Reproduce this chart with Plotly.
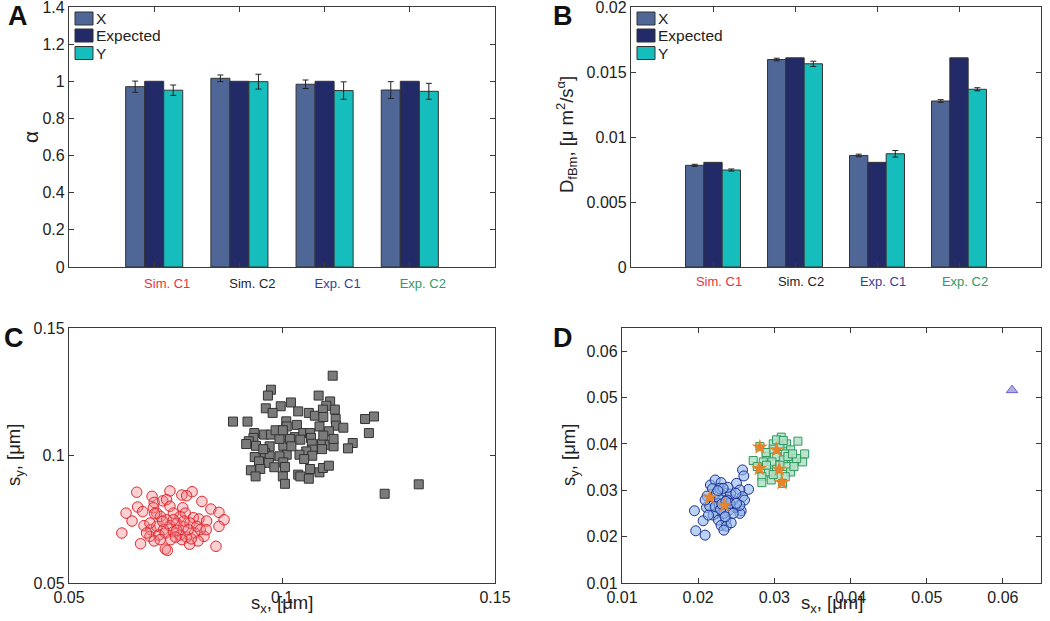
import plotly.graph_objects as go

# ---------------- data ----------------
categories = ["Sim. C1", "Sim. C2", "Exp. C1", "Exp. C2"]
cat_colors = ["#e8323c", "#222222", "#34409c", "#2f9a62"]
series_names = ["X", "Expected", "Y"]
series_colors = ["#4f6797", "#222a67", "#16bdbd"]

alpha_X = [0.971, 1.016, 0.984, 0.953]
alpha_X_err = [0.030, 0.018, 0.023, 0.045]
alpha_E = [1.0, 1.0, 1.0, 1.0]
alpha_Y = [0.952, 0.998, 0.950, 0.946]
alpha_Y_err = [0.028, 0.040, 0.047, 0.043]

D_X = [0.00782, 0.01596, 0.00858, 0.01277]
D_X_err = [0.00008, 0.0001, 0.0001, 0.0001]
D_E = [0.00805, 0.01609, 0.00805, 0.01609]
D_Y = [0.00746, 0.01563, 0.00871, 0.01367]
D_Y_err = [0.00008, 0.0002, 0.00025, 0.00012]

# panel C: simulated condition 1 (red circles) and condition 2 (grey squares)
C_sim1_points = [
    (0.0659, 0.0856), (0.0695, 0.0840), (0.0737, 0.0861), (0.0765, 0.0845), (0.0789, 0.0858),
    (0.0776, 0.0842), (0.0700, 0.0816), (0.0720, 0.0822), (0.0729, 0.0827), (0.0812, 0.0820),
    (0.0634, 0.0774), (0.0661, 0.0798), (0.0673, 0.0780), (0.0698, 0.0795), (0.0737, 0.0801),
    (0.0767, 0.0795), (0.0833, 0.0790), (0.0852, 0.0777), (0.0864, 0.0748), (0.0648, 0.0743),
    (0.0676, 0.0725), (0.0706, 0.0774), (0.0715, 0.0761), (0.0729, 0.0748), (0.0745, 0.0774),
    (0.0761, 0.0761), (0.0773, 0.0774), (0.0792, 0.0756), (0.0805, 0.0751), (0.0823, 0.0743),
    (0.0852, 0.0722), (0.0624, 0.0696), (0.0692, 0.0709), (0.0706, 0.0722), (0.0722, 0.0709),
    (0.0737, 0.0725), (0.0753, 0.0733), (0.0769, 0.0720), (0.0784, 0.0735), (0.0800, 0.0722),
    (0.0690, 0.0683), (0.0711, 0.0688), (0.0726, 0.0696), (0.0745, 0.0701), (0.0761, 0.0688),
    (0.0776, 0.0680), (0.0795, 0.0696), (0.0817, 0.0683), (0.0668, 0.0654), (0.0700, 0.0665),
    (0.0739, 0.0670), (0.0765, 0.0670), (0.0783, 0.0652), (0.0803, 0.0665), (0.0845, 0.0644),
    (0.0726, 0.0633), (0.0731, 0.0628), (0.0690, 0.0735), (0.0720, 0.0742), (0.0753, 0.0707),
    (0.0780, 0.0709), (0.0682, 0.0696), (0.0808, 0.0709), (0.0750, 0.0680), (0.0714, 0.0670),
    (0.0787, 0.0673), (0.0701, 0.0772), (0.0745, 0.0748), (0.0770, 0.0743), (0.0822, 0.0709),
]
C_sim2_points = [
    (0.1119, 0.1313), (0.0974, 0.1258), (0.0967, 0.1235), (0.1086, 0.1235), (0.1113, 0.1212),
    (0.1104, 0.1195), (0.1021, 0.1208), (0.0997, 0.1193), (0.0962, 0.1185), (0.0978, 0.1167),
    (0.1038, 0.1173), (0.1063, 0.1167), (0.1124, 0.1180), (0.1077, 0.1156), (0.1096, 0.1180),
    (0.1097, 0.1151), (0.1126, 0.1143), (0.1195, 0.1143), (0.1216, 0.1153), (0.0885, 0.1133),
    (0.0919, 0.1133), (0.1010, 0.1134), (0.1011, 0.1114), (0.1035, 0.1120), (0.1088, 0.1114),
    (0.1127, 0.1117), (0.1144, 0.1109), (0.1110, 0.1095), (0.1204, 0.1088), (0.0935, 0.1088),
    (0.0958, 0.1082), (0.0974, 0.1082), (0.1003, 0.1078), (0.1030, 0.1072), (0.1050, 0.1088),
    (0.1066, 0.1088), (0.1068, 0.1069), (0.0933, 0.1069), (0.0922, 0.1056), (0.0916, 0.1045),
    (0.0939, 0.1038), (0.0971, 0.1036), (0.1003, 0.1038), (0.0994, 0.1065), (0.1019, 0.1065),
    (0.1043, 0.1062), (0.1070, 0.1046), (0.1094, 0.1046), (0.1112, 0.1042), (0.1121, 0.1036),
    (0.1166, 0.1049), (0.1155, 0.1028), (0.1094, 0.1025), (0.1072, 0.1023), (0.1057, 0.1016),
    (0.1041, 0.1003), (0.1011, 0.1003), (0.0994, 0.0997), (0.0960, 0.1010), (0.0971, 0.0997),
    (0.0936, 0.0994), (0.0946, 0.0977), (0.0969, 0.0971), (0.1003, 0.0973), (0.1007, 0.0955),
    (0.0982, 0.0954), (0.0949, 0.0947), (0.0927, 0.0942), (0.0938, 0.0918), (0.1038, 0.0925),
    (0.1043, 0.0918), (0.1063, 0.0909), (0.1066, 0.0947), (0.1088, 0.0934), (0.1096, 0.0951),
    (0.1110, 0.0960), (0.1002, 0.0918), (0.1007, 0.0889), (0.1241, 0.0850), (0.1321, 0.0887),
    (0.1071, 0.0999), (0.1052, 0.0986), (0.0985, 0.1099), (0.1002, 0.1099), (0.1097, 0.1078),
    (0.1022, 0.1036), (0.1121, 0.1065), (0.0956, 0.1025),
]

# panel D: experimental condition 1 (blue circles), condition 2 (green squares),
# highlighted cells (orange stars) and a single outlier (triangle)
D_exp1_points = [
    (0.01951, 0.02558), (0.01968, 0.02126), (0.02065, 0.02342), (0.02091, 0.02032), (0.02161, 0.03114),
    (0.02223, 0.03222), (0.02188, 0.03035), (0.02117, 0.02876), (0.02109, 0.02631), (0.02174, 0.02789),
    (0.02240, 0.02934), (0.02301, 0.03165), (0.02284, 0.03042), (0.02319, 0.02789), (0.02240, 0.02501),
    (0.02345, 0.02645), (0.02372, 0.02934), (0.02196, 0.02465), (0.02266, 0.02356), (0.02363, 0.02356),
    (0.02301, 0.02241), (0.02372, 0.02227), (0.02433, 0.02299), (0.02337, 0.02140), (0.02503, 0.03150),
    (0.02582, 0.03439), (0.02599, 0.03309), (0.02661, 0.03020), (0.02547, 0.03006), (0.02582, 0.02862),
    (0.02608, 0.02789), (0.02564, 0.02558), (0.02547, 0.02501), (0.02486, 0.02631), (0.02459, 0.02789),
    (0.02424, 0.02919), (0.02389, 0.03064), (0.02328, 0.03042), (0.02266, 0.02717), (0.02407, 0.02573),
    (0.02459, 0.02501), (0.02152, 0.02659), (0.02275, 0.02818), (0.02337, 0.02501), (0.02494, 0.02934),
    (0.02091, 0.02789), (0.02223, 0.02645), (0.02293, 0.02587), (0.02380, 0.02789), (0.02415, 0.02717),
    (0.02354, 0.02429), (0.02547, 0.02674), (0.02135, 0.02465), (0.02503, 0.02717), (0.02310, 0.02703),
    (0.02363, 0.02760), (0.02258, 0.02991),
]
D_exp2_points = [
    (0.02722, 0.03641), (0.02810, 0.03944), (0.02985, 0.04001), (0.03090, 0.04146), (0.03160, 0.04001),
    (0.03309, 0.04059), (0.03073, 0.03944), (0.03213, 0.03872), (0.03143, 0.03785), (0.03029, 0.03727),
    (0.02897, 0.03727), (0.02854, 0.03612), (0.02968, 0.03612), (0.03117, 0.03655), (0.03248, 0.03612),
    (0.03371, 0.03612), (0.03397, 0.03785), (0.03292, 0.03684), (0.02819, 0.03453), (0.02924, 0.03395),
    (0.03029, 0.03453), (0.03160, 0.03511), (0.03213, 0.03395), (0.02836, 0.03294), (0.02959, 0.03222),
    (0.02836, 0.03165), (0.03055, 0.03294), (0.03143, 0.03294), (0.03108, 0.03150), (0.02985, 0.03338),
    (0.03073, 0.03540), (0.02897, 0.03540), (0.02985, 0.03886), (0.03178, 0.03727), (0.03257, 0.03511),
    (0.02775, 0.03511), (0.02889, 0.03814), (0.03239, 0.03785), (0.03029, 0.04088), (0.03117, 0.04074),
]
D_star_points = [
    (0.02810, 0.03929), (0.03029, 0.03872), (0.02801, 0.03467), (0.03064, 0.03453),
    (0.03099, 0.03165), (0.02152, 0.02847), (0.02345, 0.02674),
]
D_outlier_points = [(0.0612, 0.0516)]

FONT = "Liberation Sans, Arial, Helvetica, sans-serif"
AX = "#3a3a3a"
W, H = 1050, 621


def unzip(pts):
    return [p[0] for p in pts], [p[1] for p in pts]


def px_x(p):
    return p / W


def px_y(p):
    return 1 - p / H


fig = go.Figure()
xcat = [1, 2, 3, 4]

# ---------- panels A and B (grouped bars) ----------
for (xa, ya, sfx, vX, eX, vE, vY, eY) in [
    ("x", "y", "A", alpha_X, alpha_X_err, alpha_E, alpha_Y, alpha_Y_err),
    ("x2", "y2", "B", D_X, D_X_err, D_E, D_Y, D_Y_err),
]:
    for name, col, vals, err in [
        (series_names[0], series_colors[0], vX, eX),
        (series_names[1], series_colors[1], vE, None),
        (series_names[2], series_colors[2], vY, eY),
    ]:
        fig.add_trace(go.Bar(
            x=xcat, y=vals, name=name, showlegend=False,
            marker=dict(color=col, line=dict(color="#333333", width=1)),
            error_y=(dict(type="data", array=err, color="#222222", thickness=1, width=3)
                     if err else None),
            xaxis=xa, yaxis=ya, offsetgroup=name + sfx,
        ))

# ---------- panel C ----------
cx, cy = unzip(C_sim1_points)
fig.add_trace(go.Scatter(
    x=cx, y=cy, mode="markers", xaxis="x3", yaxis="y3", showlegend=False,
    marker=dict(symbol="circle", size=10.5, color="rgba(240,120,130,0.35)",
                line=dict(color="#e0282c", width=1)),
))
cx, cy = unzip(C_sim2_points)
fig.add_trace(go.Scatter(
    x=cx, y=cy, mode="markers", xaxis="x3", yaxis="y3", showlegend=False,
    marker=dict(symbol="square", size=9, color="#7b7b7b", line=dict(color="#333333", width=1)),
))

# ---------- panel D ----------
dx, dy = unzip(D_exp1_points)
fig.add_trace(go.Scatter(
    x=dx, y=dy, mode="markers", xaxis="x4", yaxis="y4", showlegend=False,
    marker=dict(symbol="circle", size=10, color="rgba(140,180,235,0.6)",
                line=dict(color="#1f2f8f", width=1)),
))
dx, dy = unzip(D_exp2_points)
fig.add_trace(go.Scatter(
    x=dx, y=dy, mode="markers", xaxis="x4", yaxis="y4", showlegend=False,
    marker=dict(symbol="square", size=8, color="rgba(180,225,200,0.85)",
                line=dict(color="#2e9a5e", width=1)),
))
dx, dy = unzip(D_star_points)
fig.add_trace(go.Scatter(
    x=dx, y=dy, mode="markers", xaxis="x4", yaxis="y4", showlegend=False,
    marker=dict(symbol="star", size=12, color="#e8832a", line=dict(color="#e8832a", width=0)),
))
dx, dy = unzip(D_outlier_points)
fig.add_trace(go.Scatter(
    x=dx, y=dy, mode="markers", xaxis="x4", yaxis="y4", showlegend=False,
    marker=dict(symbol="triangle-up", size=10, color="#b3ade6", line=dict(color="#6b60c8", width=1)),
))

common = dict(showline=True, linecolor=AX, linewidth=1.3, mirror="allticks", ticks="inside",
              ticklen=5, tickcolor=AX, tickwidth=1, showgrid=False, zeroline=False,
              tickfont=dict(family=FONT, size=16, color="#222222"), automargin=False,
              layer="above traces", ticklabeloverflow="allow")
common_nofont = {k: v for k, v in common.items() if k != "tickfont"}

cat_ticktext = ['<span style="color:%s">%s</span>' % (c, t) for c, t in zip(cat_colors, categories)]

layout = dict(
    width=W, height=H, margin=dict(l=0, r=0, t=0, b=0),
    paper_bgcolor="white", plot_bgcolor="white",
    barmode="group", bargap=0.33, bargroupgap=0,
    font=dict(family=FONT, color="#222222"),
    xaxis=dict(domain=[px_x(69), px_x(495)], anchor="y", range=[0, 5], tickvals=xcat,
               ticktext=cat_ticktext, tickfont=dict(family=FONT, size=13), ticklabelshift=13,
               ticklabelstandoff=4, **common_nofont),
    yaxis=dict(domain=[px_y(267), px_y(7)], anchor="x", range=[0, 1.4],
               tickvals=[0, 0.2, 0.4, 0.6, 0.8, 1, 1.2, 1.4],
               ticktext=["0", "0.2", "0.4", "0.6", "0.8", "1", "1.2", "1.4"], **common),
    xaxis2=dict(domain=[px_x(631), px_x(1041)], anchor="y2", range=[0, 5], tickvals=xcat,
                ticktext=cat_ticktext, tickfont=dict(family=FONT, size=13), ticklabelshift=6,
                ticklabelstandoff=2, **common_nofont),
    yaxis2=dict(domain=[px_y(267), px_y(7)], anchor="x2", range=[0, 0.02],
                tickvals=[0, 0.005, 0.01, 0.015, 0.02],
                ticktext=["0", "0.005", "0.01", "0.015", "0.02"], **common),
    xaxis3=dict(domain=[px_x(69), px_x(495)], anchor="y3", range=[0.05, 0.15],
                tickvals=[0.05, 0.1, 0.15], ticktext=["0.05", "0.1", "0.15"], **common),
    yaxis3=dict(domain=[px_y(583), px_y(328)], anchor="x3", range=[0.05, 0.15],
                tickvals=[0.05, 0.1, 0.15], ticktext=["0.05", "0.1", "0.15"], **common),
    xaxis4=dict(domain=[px_x(622), px_x(1041)], anchor="y4", range=[0.01, 0.065],
                tickvals=[0.01, 0.02, 0.03, 0.04, 0.05, 0.06],
                ticktext=["0.01", "0.02", "0.03", "0.04", "0.05", "0.06"], **common),
    yaxis4=dict(domain=[px_y(583), px_y(328)], anchor="x4", range=[0.01, 0.065],
                tickvals=[0.01, 0.02, 0.03, 0.04, 0.05, 0.06],
                ticktext=["0.01", "0.02", "0.03", "0.04", "0.05", "0.06"], **common),
)
fig.update_layout(**layout)

ann = []
shapes = []
# legends (drawn as swatches + labels, one per bar panel)
leg_rows = [18.5, 35.5, 53]
for box_left in (75, 637):
    for name, col, yc in zip(series_names, series_colors, leg_rows):
        shapes.append(dict(type="rect", xref="paper", yref="paper",
                           x0=px_x(box_left), x1=px_x(box_left + 18),
                           y0=px_y(yc + 6.5), y1=px_y(yc - 6.5),
                           fillcolor=col, line=dict(color="#333333", width=1)))
        ann.append(dict(text=name, x=px_x(box_left + 19), y=px_y(yc), xref="paper", yref="paper",
                        showarrow=False, xanchor="left", yanchor="middle",
                        font=dict(family=FONT, size=15.5, color="#222222")))
# panel letters
for txt, x, y in [("A", 18, 16), ("B", 563, 16), ("C", 14, 338), ("D", 563, 338)]:
    ann.append(dict(text="<b>%s</b>" % txt, x=px_x(x), y=px_y(y), xref="paper", yref="paper",
                    showarrow=False, font=dict(family=FONT, size=27, color="#111111"),
                    xanchor="center", yanchor="middle"))
# axis titles
titles = [
    ("α", 30, 137, -90, 21),
    ("D<sub>fBm</sub>, [μ m<sup>2</sup>/s<sup>α</sup>]", 567, 135, -90, 18.5),
    ("s<sub>y</sub>, [μm]", 15, 455, -90, 18.5),
    ("s<sub>x</sub>, [μm]", 282, 604, 0, 18.5),
    ("s<sub>y</sub>, [μm]", 570, 455, -90, 18.5),
    ("s<sub>x</sub>, [μm]", 832, 604, 0, 18.5),
]
for txt, x, y, ang, fs in titles:
    ann.append(dict(text=txt, x=px_x(x), y=px_y(y), xref="paper", yref="paper", showarrow=False,
                    textangle=ang, font=dict(family=FONT, size=fs, color="#222222"),
                    xanchor="center", yanchor="middle"))
fig.update_layout(annotations=ann, shapes=shapes)

fig.write_html("out.html", config={"displayModeBar": False},
               post_script="document.body.style.margin='0';document.body.style.overflow='hidden';")
